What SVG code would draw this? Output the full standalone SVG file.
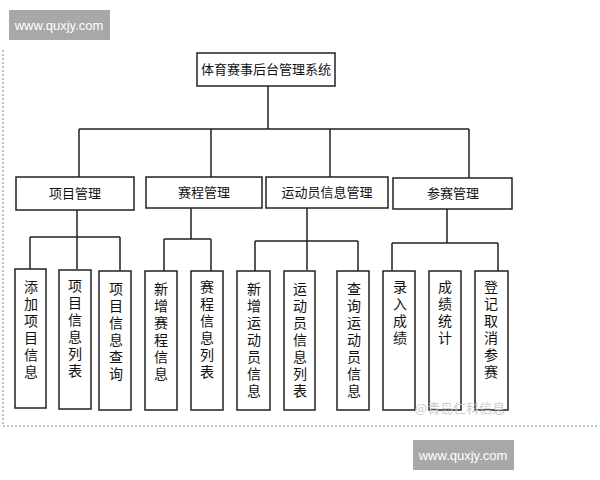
<svg xmlns="http://www.w3.org/2000/svg" width="600" height="480" viewBox="0 0 600 480">
<style>
.b{fill:#fff;stroke:#222;stroke-width:1.5}
.l{stroke:#222;stroke-width:1.5;fill:none}
text{font-family:"Noto Sans CJK SC","Liberation Sans",sans-serif;font-size:13px;fill:#111;text-anchor:middle}
.v{font-size:14px;writing-mode:vertical-rl;text-anchor:start;letter-spacing:3px}
.w{font-family:"Liberation Sans",sans-serif;fill:#fff;font-size:13px}
</style>
<rect width="600" height="480" fill="#fff"/>
<path d="M3 50V426H597" stroke="#6a8ab0" stroke-width="1" stroke-dasharray="2,2" fill="none"/>
<g id="connectors" class="l">
<path d="M268 86V129M79 129H469M79 129V177M211 129V177M330 129V177M469 129V178"/>
<path d="M77 210V269M30 237H120M30 237V269M120 237V271"/>
<path d="M191 208V239M164 239H211M164 239V271M211 239V271"/>
<path d="M307 208V270M255 241H358M255 241V271M358 241V271"/>
<path d="M447 209V243M392 243H498M392 243V271M498 243V271"/>
</g>
<g id="root"><rect class="b" x="197" y="53" width="138" height="33"/><text x="266" y="74">体育赛事后台管理系统</text></g>
<g id="n1"><rect class="b" x="16" y="177" width="118" height="33"/><text x="75" y="198">项目管理</text></g>
<g id="n2"><rect class="b" x="146" y="177" width="116" height="31"/><text x="204" y="197">赛程管理</text></g>
<g id="n3"><rect class="b" x="266" y="177" width="122" height="31"/><text x="327" y="197">运动员信息管理</text></g>
<g id="n4"><rect class="b" x="393" y="178" width="119" height="31"/><text x="453" y="198">参赛管理</text></g>
<g id="l1"><rect class="b" x="15" y="269" width="31" height="139"/><text class="v" x="31" y="280">添加项目信息</text></g>
<g id="l2"><rect class="b" x="59" y="270" width="32" height="139"/><text class="v" x="75" y="279">项目信息列表</text></g>
<g id="l3"><rect class="b" x="99" y="271" width="32" height="139"/><text class="v" x="116" y="282">项目信息查询</text></g>
<g id="l4"><rect class="b" x="145" y="271" width="32" height="139"/><text class="v" x="161" y="282">新增赛程信息</text></g>
<g id="l5"><rect class="b" x="191" y="271" width="32" height="139"/><text class="v" x="207" y="280">赛程信息列表</text></g>
<g id="l6"><rect class="b" x="237" y="271" width="33" height="139"/><text class="v" x="254" y="282">新增运动员信息</text></g>
<g id="l7"><rect class="b" x="284" y="271" width="31" height="139"/><text class="v" x="300" y="282">运动员信息列表</text></g>
<g id="l8"><rect class="b" x="337" y="271" width="32" height="139"/><text class="v" x="354" y="282">查询运动员信息</text></g>
<g id="l9"><rect class="b" x="383" y="271" width="32" height="139"/><text class="v" x="400" y="280">录入成绩</text></g>
<g id="l10"><rect class="b" x="429" y="271" width="32" height="139"/><text class="v" x="445" y="280">成绩统计</text></g>
<g id="l11"><rect class="b" x="475" y="271" width="33" height="139"/><text class="v" x="491" y="280">登记取消参赛</text></g>
<text x="460" y="413" style="font-size:13px;fill:#ccc">@青岛仁科信息</text>
<rect x="9" y="10" width="101" height="30" fill="#a8a8a8"/><text class="w" x="59" y="30">www.quxjy.com</text>
<rect x="413" y="440" width="101" height="30" fill="#a8a8a8"/><text class="w" x="463" y="460">www.quxjy.com</text>
</svg>
